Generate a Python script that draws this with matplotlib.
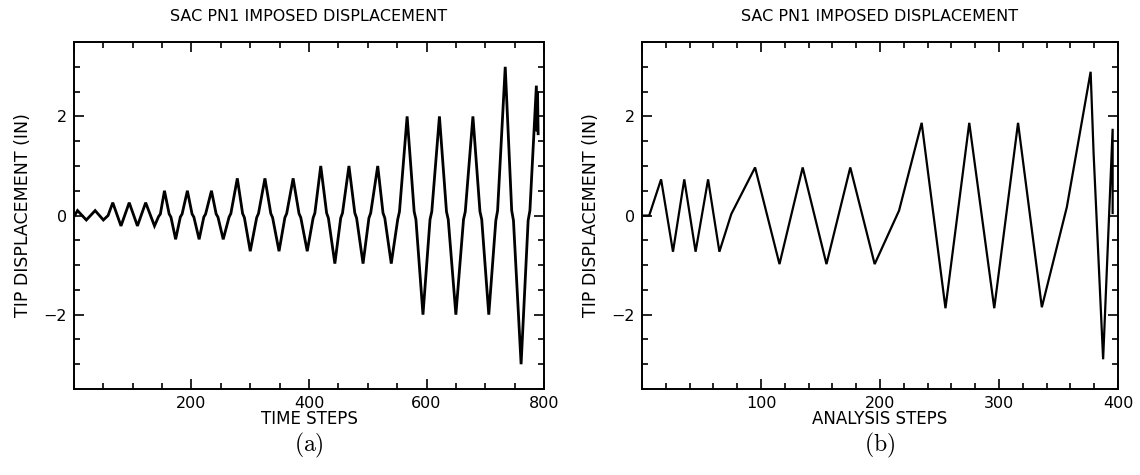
import matplotlib
matplotlib.use("Agg")
import matplotlib.pyplot as plt
from matplotlib.ticker import MultipleLocator

plt.rcParams['font.family'] = ['DejaVu Sans']
plt.rcParams['mathtext.fontset'] = 'cm'

title = "SAC PN1 IMPOSED DISPLACEMENT"
ylabel = "TIP DISPLACEMENT (IN)"

# (a) imposed displacement vs time steps
time_steps = [1, 6, 21, 36, 50, 58, 66, 80, 94, 108, 122, 137,
              144, 147, 154, 162, 165, 173, 181, 184, 193, 201, 204, 213,
              221, 224, 234, 242, 245, 254,
              264, 267, 278, 287, 290, 300, 311, 314, 325, 335, 338, 349,
              359, 362, 373, 383, 386, 397,
              407, 410, 420, 430, 433, 444, 454, 457, 468, 478, 481, 492,
              502, 505, 517, 526, 529, 540,
              551, 554, 567, 579, 582, 594, 606, 609, 622, 634, 637, 650,
              663, 666, 679, 691, 694, 706,
              718, 721, 734, 745, 748, 761, 773, 776, 787, 788, 789, 790]
time_disp = [0.0, 0.1, -0.09, 0.1, -0.09, 0.0, 0.26, -0.21, 0.26, -0.21, 0.26, -0.21,
             -0.02, 0.03, 0.5, 0.03, -0.03, -0.48, -0.03, 0.03, 0.5, 0.03, -0.03, -0.48,
             -0.03, 0.03, 0.5, 0.03, -0.03, -0.48,
             -0.03, 0.04, 0.75, 0.04, -0.04, -0.72, -0.04, 0.04, 0.75, 0.04, -0.04, -0.72,
             -0.04, 0.04, 0.75, 0.04, -0.04, -0.72,
             -0.05, 0.05, 1.0, 0.05, -0.05, -0.97, -0.05, 0.05, 1.0, 0.05, -0.05, -0.97,
             -0.05, 0.05, 1.0, 0.05, -0.05, -0.97,
             -0.08, 0.08, 2.0, 0.08, -0.08, -2.0, -0.08, 0.08, 2.0, 0.08, -0.08, -2.0,
             -0.08, 0.08, 2.0, 0.08, -0.08, -2.0,
             -0.1, 0.1, 3.0, 0.1, -0.1, -3.0, -0.1, 0.1, 2.62, 1.7, 2.5, 1.65]

# (b) imposed displacement vs analysis steps
analysis_steps = [1.5, 6, 16, 26, 35.5, 45, 55.5, 65, 75, 95, 115.5, 135, 155,
                  175, 195.5, 216, 235, 255, 275, 296, 316, 336, 357, 377,
                  379.5, 387.5, 392.5, 395.5, 395.5]
analysis_disp = [0.0, 0.0, 0.73, -0.73, 0.73, -0.73, 0.73, -0.73, 0.03, 0.97, -0.98, 0.97, -0.98,
                 0.97, -0.98, 0.1, 1.87, -1.87, 1.87, -1.87, 1.87, -1.85, 0.17, 2.9,
                 1.25, -2.9, 0.0, 1.75, 0.05]

fig = plt.figure(figsize=(11.4, 4.75), dpi=100)
ax1 = fig.add_axes([0.0649, 0.181, 0.4123, 0.7305])
ax2 = fig.add_axes([0.5632, 0.181, 0.4175, 0.7305])

panels = [
    (ax1, time_steps, time_disp, (0, 800), 200, 50, "TIME STEPS", "(a)", 2.0),
    (ax2, analysis_steps, analysis_disp, (0, 400), 100, 20, "ANALYSIS STEPS", "(b)", 1.6),
]

for ax, xs, ys, xlim, xmaj, xmin, xlab, tag, lw in panels:
    ax.plot(xs, ys, color='black', lw=lw, solid_joinstyle='miter')
    ax.set_xlim(xlim)
    ax.set_ylim(-3.5, 3.5)
    ax.xaxis.set_major_locator(MultipleLocator(xmaj))
    ax.xaxis.set_minor_locator(MultipleLocator(xmin))
    ax.yaxis.set_major_locator(MultipleLocator(2))
    ax.yaxis.set_minor_locator(MultipleLocator(0.5))
    ax.tick_params(which='both', direction='in', top=True, right=True,
                   labelsize=11.5, width=1.2, pad=5)
    ax.tick_params(which='major', length=7)
    ax.tick_params(which='minor', length=4)
    labels = [str(int(t)) if t > 0 else "" for t in ax.get_xticks()]
    ax.set_xticks(ax.get_xticks())
    ax.set_xticklabels(labels)
    ax.set_xlim(xlim)
    ax.set_yticks([-2, 0, 2])
    ax.set_yticklabels(["\u22122", "0", "2"])
    for s in ax.spines.values():
        s.set_linewidth(1.4)
    ax.set_title(title, fontsize=11.5, pad=15)
    ax.set_ylabel(ylabel, fontsize=12.5, labelpad=8)
    ax.set_xlabel(xlab, fontsize=12, labelpad=-1)
    ax.text(0.5, -0.163, r"$\mathrm{" + tag + "}$", transform=ax.transAxes,
            ha='center', va='center', fontsize=17)

fig.savefig("out.png", dpi=100)
